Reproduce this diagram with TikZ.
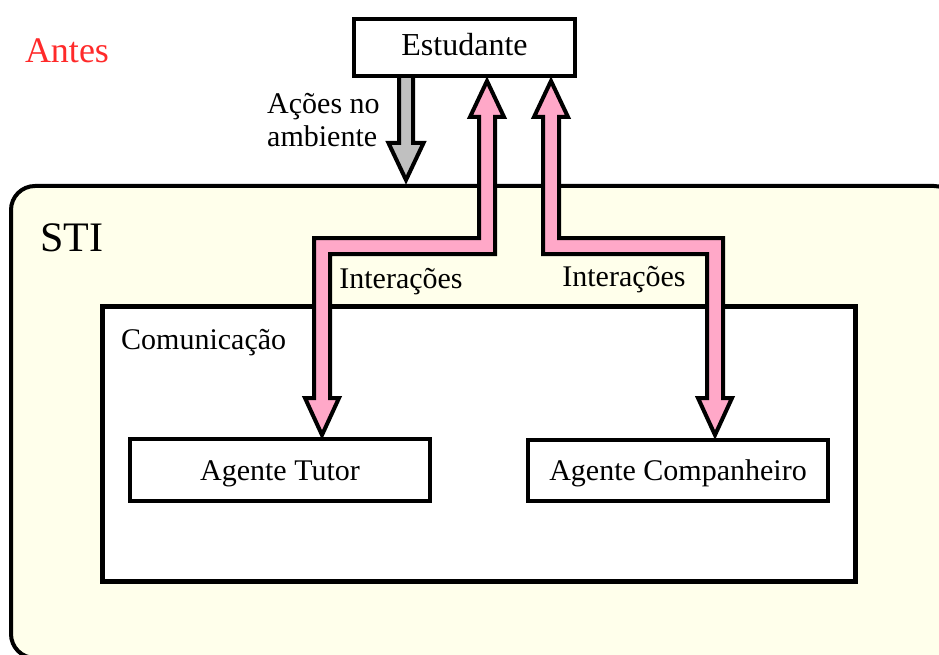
\documentclass[tikz,border=0pt]{standalone}
\usepackage{fontspec}
\setmainfont{Liberation Serif}
\definecolor{stifill}{HTML}{FFFFEB}
\definecolor{fatpink}{HTML}{FFA8C8}
\definecolor{fatgray}{HTML}{C0C0C0}
\definecolor{antesred}{HTML}{FF2A2A}
\begin{document}
\begin{tikzpicture}[x=1pt,y=-1pt,
  box/.style={draw=black, line width=4pt, fill=white, rectangle, inner sep=0pt},
  fatarrow/.style={draw=black, line width=4pt, line join=miter},
  txt/.style={inner sep=0pt, font=\fontsize{30}{32}\selectfont},
]
\useasboundingbox (0,0) rectangle (939,655);
\clip (0,0) rectangle (939,655);

% outer system frame (runs past the page edge)
\node[box, fill=stifill, rounded corners=24pt, minimum width=947pt, minimum height=472pt]
  (sti) at (484.5,422) {};
\node[txt, anchor=base west, font=\fontsize{42}{44}\selectfont] (stilabel) at (40,251) {STI};

% communication layer
\node[box, line width=5pt, minimum width=753pt, minimum height=275pt] (com) at (478.5,443.5) {};
\node[txt, anchor=base west] (comlabel) at (121,349) {Comunicação};

% actions of the student on the environment
\draw[fatarrow, fill=fatgray]
  (399,76) -- (399,143) -- (388.5,143) -- (406,180) -- (423.5,143) -- (413,143) -- (413,76) -- cycle;

% interactions with the tutor agent
\draw[fatarrow, fill=fatpink]
  (487,81) -- (504,117) -- (495,117) -- (495,254) -- (330,254) -- (330,398) -- (339,398)
  -- (322,435) -- (305,398) -- (314,398) -- (314,238) -- (479,238) -- (479,117) -- (470,117) -- cycle;

% interactions with the companion agent
\draw[fatarrow, fill=fatpink]
  (551,81) -- (568,117) -- (559,117) -- (559,238) -- (723,238) -- (723,398) -- (732,398)
  -- (715,435) -- (698,398) -- (707,398) -- (707,254) -- (543,254) -- (543,117) -- (534,117) -- cycle;

% student
\node[box, minimum width=221pt, minimum height=57pt, font=\fontsize{32}{34}\selectfont,
  text height=21pt, text depth=4pt] (est) at (464.5,47.5) {Estudante};

% agents
\node[box, minimum width=300pt, minimum height=62pt, font=\fontsize{30}{32}\selectfont,
  text height=22pt, text depth=2pt] (tutor) at (280,470) {Agente Tutor};
\node[box, minimum width=300pt, minimum height=61pt, font=\fontsize{30}{32}\selectfont,
  text height=22pt, text depth=3pt] (comp) at (678,470.5) {Agente Companheiro};

% labels
\node[txt, anchor=base, text=antesred, font=\fontsize{36}{38}\selectfont] (antes) at (67,63) {Antes};
\node[txt, anchor=base west] (acoes1) at (267,114) {Ações no};
\node[txt, anchor=base west] (acoes2) at (267,147) {ambiente};
\node[txt, anchor=base] (inter1) at (401,288) {Interações};
\node[txt, anchor=base] (inter2) at (624,286) {Interações};
\end{tikzpicture}
\end{document}
